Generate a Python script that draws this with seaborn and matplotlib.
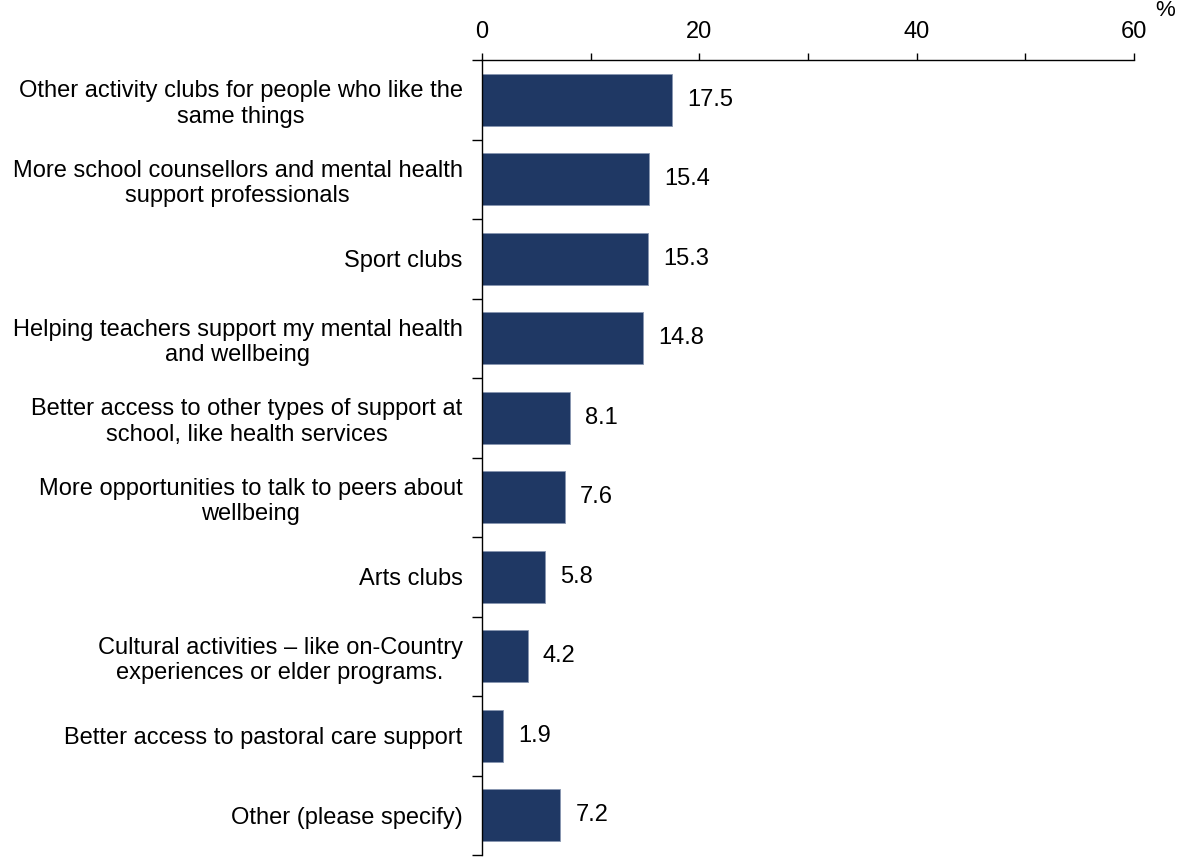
import matplotlib
matplotlib.use("Agg")
import matplotlib.pyplot as plt
import seaborn as sns
import pandas as pd
from matplotlib.ticker import MultipleLocator, FixedLocator, NullFormatter

categories = [
    "Other activity clubs for people who like the\nsame things",
    "More school counsellors and mental health\nsupport professionals",
    "Sport clubs",
    "Helping teachers support my mental health\nand wellbeing",
    "Better access to other types of support at\nschool, like health services",
    "More opportunities to talk to peers about\nwellbeing",
    "Arts clubs",
    "Cultural activities \u2013 like on-Country\nexperiences or elder programs.",
    "Better access to pastoral care support",
    "Other (please specify)",
]
values = [17.5, 15.4, 15.3, 14.8, 8.1, 7.6, 5.8, 4.2, 1.9, 7.2]
x_ticks = [0, 20, 40, 60]

sns.set_theme(style="white")
plt.rcParams["font.family"] = ["Liberation Sans", "DejaVu Sans"]
plt.rcParams["text.color"] = "black"
plt.rcParams["xtick.color"] = "black"
plt.rcParams["ytick.color"] = "black"

FS = 17

df = pd.DataFrame({"cat": categories, "val": values})

fig = plt.figure(figsize=(11.77, 8.57), dpi=100)
ax = fig.add_axes([482/1177, 1 - 855/857, (1134-482)/1177, (855-60)/857])

sns.barplot(data=df, y="cat", x="val", orient="h", color="#1F3864",
            width=0.66, edgecolor="#8796B0", linewidth=0.6, saturation=1, ax=ax)

ax.set_xlim(0, 60)
ax.set_ylim(len(categories) - 0.5, -0.5)
ax.xaxis.tick_top()
ax.set_xticks(x_ticks)
ax.xaxis.set_minor_locator(MultipleLocator(10))
ax.tick_params(axis="x", which="both", direction="out", length=5, width=1,
               color="black", labelcolor="black", labelsize=FS, pad=7, top=True, bottom=False)
ax.set_xlabel("")
ax.set_ylabel("")

ax.set_yticks(range(len(categories)))
ax.set_yticklabels(categories, fontsize=FS, ha="right", multialignment="center", color="black")
ax.tick_params(axis="y", which="major", length=0, pad=14)
ax.yaxis.set_minor_locator(FixedLocator([i - 0.5 for i in range(len(categories) + 1)]))
ax.yaxis.set_minor_formatter(NullFormatter())
ax.tick_params(axis="y", which="minor", direction="out", length=7, width=1, color="black", left=True)

for s in ["right", "bottom"]:
    ax.spines[s].set_visible(False)
for s in ["top", "left"]:
    ax.spines[s].set_visible(True)
    ax.spines[s].set_color("black")
    ax.spines[s].set_linewidth(1)

for i, v in enumerate(values):
    ax.text(v + 1.4, i, f"{v:.1f}", va="center", ha="left", fontsize=FS, color="black")

fig.text(1155/1177, 1 - 10/857, "%", fontsize=16, ha="left", va="center", color="black")

fig.savefig("out.png", dpi=100)
